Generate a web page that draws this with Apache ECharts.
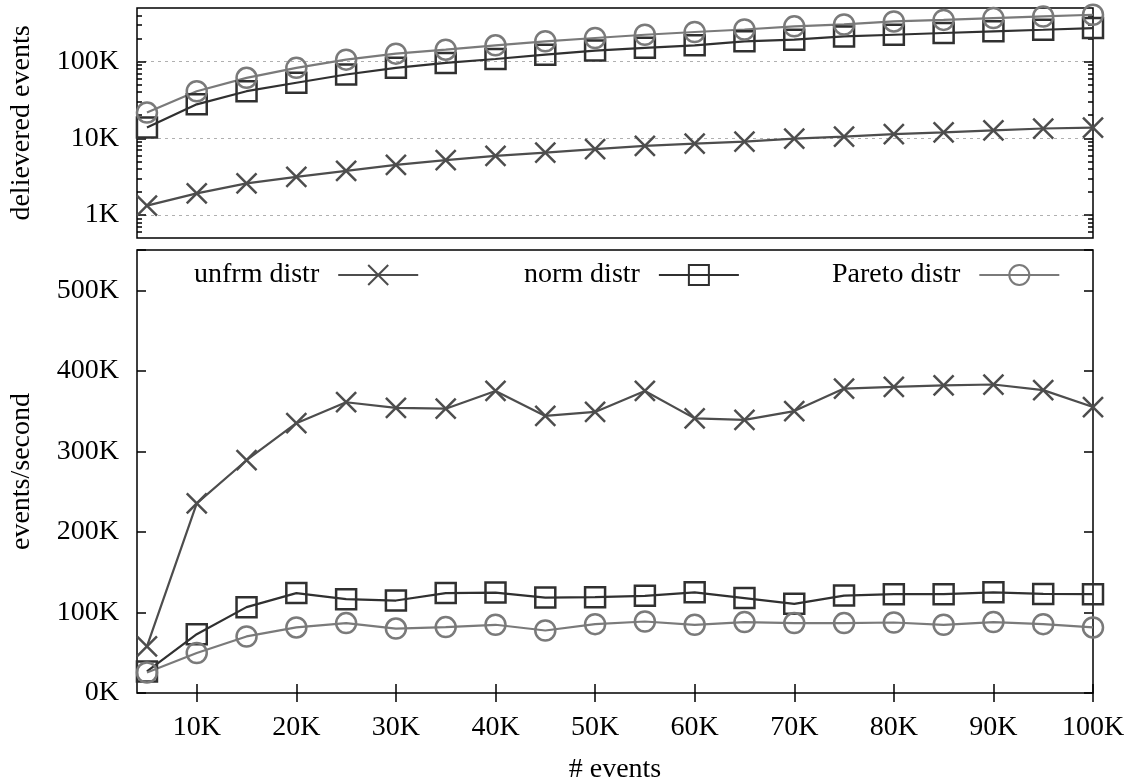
<!DOCTYPE html>
<html>
<head>
<meta charset="utf-8">
<title>delivered events</title>
<script src="https://cdn.jsdelivr.net/npm/echarts@6.0.0/dist/echarts.min.js"></script>
<style>
html, body { margin: 0; padding: 0; background: #fff; }
#chart { width: 1131px; height: 780px; }
</style>
</head>
<body>
<div id="chart"></div>
<script>
// number of events (x)
const eventCounts = [5000, 10000, 15000, 20000, 25000, 30000, 35000, 40000, 45000, 50000,
    55000, 60000, 65000, 70000, 75000, 80000, 85000, 90000, 95000, 100000];

// top panel: delivered events (log scale)
const unfrmDelivered = [1320, 1910, 2580, 3140, 3760, 4500, 5180, 5890, 6500, 7200,
    7940, 8530, 9060, 9900, 10500, 11300, 11900, 12700, 13400, 13800];
const normDelivered = [13800, 27700, 41100, 52900, 67800, 82800, 96000, 108000, 123000, 139000,
    151000, 163000, 184000, 193000, 213000, 224000, 236000, 248000, 260000, 274000];
const paretoDelivered = [21600, 41000, 61400, 82800, 106000, 127000, 143000, 163000, 184000, 203000,
    224000, 243000, 262000, 288000, 305000, 334000, 350000, 369000, 388000, 408000];

// bottom panel: events/second
const unfrmRate = [57800, 235500, 289000, 335000, 361000, 354000, 353000, 375000, 344000, 349000,
    375000, 341000, 339000, 350000, 378000, 380000, 382000, 383000, 376000, 355000];
const normRate = [26800, 73000, 106600, 124000, 116500, 114800, 124000, 124700, 118500, 119000,
    120600, 125000, 117800, 110700, 121000, 122700, 122700, 125000, 123000, 122700];
const paretoRate = [25500, 49600, 70200, 81400, 86800, 80000, 81800, 84700, 77600, 85500,
    88800, 84700, 88000, 86800, 86800, 87500, 84700, 88000, 85500, 81400];

// tick labels
const xTicks = [10000, 20000, 30000, 40000, 50000, 60000, 70000, 80000, 90000, 100000];
const logTicks = [1000, 10000, 100000];
const logMinorTicks = [600, 700, 800, 900, 2000, 3000, 4000, 5000, 6000, 7000, 8000, 9000,
    20000, 30000, 40000, 50000, 60000, 70000, 80000, 90000, 200000, 300000, 400000];

const FONT = 'Liberation Serif';
const kFmt = v => Math.round(v / 1000) + 'K';
const pair = (ys) => eventCounts.map((x, i) => [x, ys[i]]);

const chart = echarts.init(document.getElementById('chart'));

const txt = { fontSize: 28, fontFamily: FONT, color: '#000' };
const tickStyle = { color: '#000', width: 1.5 };

const lineSeries = (name, color, symbol, data, axisIdx) => ({
    type: 'line',
    name: name,
    data: data,
    xAxisIndex: axisIdx[0],
    yAxisIndex: axisIdx[1],
    symbol: symbol,
    symbolSize: 20,
    showAllSymbol: true,
    lineStyle: { color: color, width: 2.2 },
    itemStyle: { color: 'rgba(0,0,0,0)', borderColor: color, borderWidth: 2.5 },
    emphasis: { disabled: true }
});

const CROSS = 'path://M0,0L20,20M20,0L0,20';

const xBase = {
    type: 'value', min: 4000, max: 100000,
    axisLine: { show: false }, splitLine: { show: false }
};

const legendBase = {
    align: 'right',
    itemWidth: 80,
    itemHeight: 25,
    selectedMode: false,
    textStyle: Object.assign({ padding: [0, 14, 0, 0] }, txt)
};

const option = {
    animation: false,
    backgroundColor: '#fff',
    grid: [
        {
            left: 137, right: 38, top: 8, height: 230, outerBoundsMode: 'none', containLabel: false,
            show: true, borderColor: '#000', borderWidth: 1.5
        },
        {
            left: 137, right: 38, top: 250, height: 443, outerBoundsMode: 'none', containLabel: false,
            show: true, borderColor: '#000', borderWidth: 1.5
        }
    ],
    legend: [
        Object.assign({ data: ['unfrm distr'], left: 189, top: 256 }, legendBase),
        Object.assign({ data: ['norm distr'], left: 519, top: 256 }, legendBase),
        Object.assign({ data: ['Pareto distr'], left: 827, top: 256 }, legendBase)
    ],
    xAxis: [
        Object.assign({ gridIndex: 0, axisTick: { show: false }, axisLabel: { show: false } }, xBase),
        Object.assign({
            gridIndex: 1, position: 'bottom',
            axisTick: { inside: true, length: 9, customValues: xTicks, lineStyle: tickStyle },
            axisLabel: Object.assign({ customValues: xTicks, formatter: kFmt, margin: 21 }, txt),
            name: '# events', nameLocation: 'middle', nameGap: 63, nameTextStyle: txt
        }, xBase),
        Object.assign({
            gridIndex: 1, position: 'top',
            axisTick: { inside: true, length: 9, customValues: xTicks, lineStyle: tickStyle },
            axisLabel: { show: false }
        }, xBase)
    ],
    yAxis: [
        {
            gridIndex: 0, type: 'log', logBase: 10, min: 500, max: 500000, position: 'left',
            axisLine: { show: false },
            axisTick: { inside: true, length: 9, customValues: logTicks, lineStyle: tickStyle },
            axisLabel: Object.assign({ customValues: logTicks, formatter: kFmt, margin: 18, padding: [6, 0, 0, 0] }, txt),
            splitLine: { show: true, lineStyle: { color: '#b0b0b0', width: 1, type: [3, 4] } },
            name: 'delievered events', nameLocation: 'middle', nameGap: 101, nameTextStyle: txt
        },
        {
            gridIndex: 0, type: 'log', logBase: 10, min: 500, max: 500000, position: 'right',
            axisLine: { show: false },
            axisTick: { inside: true, length: 9, customValues: logTicks, lineStyle: tickStyle },
            axisLabel: { show: false }, splitLine: { show: false }
        },
        {
            gridIndex: 0, type: 'log', logBase: 10, min: 500, max: 500000, position: 'left',
            axisLine: { show: false },
            axisTick: { inside: true, length: 5, customValues: logMinorTicks, lineStyle: tickStyle },
            axisLabel: { show: false }, splitLine: { show: false }
        },
        {
            gridIndex: 0, type: 'log', logBase: 10, min: 500, max: 500000, position: 'right',
            axisLine: { show: false },
            axisTick: { inside: true, length: 5, customValues: logMinorTicks, lineStyle: tickStyle },
            axisLabel: { show: false }, splitLine: { show: false }
        },
        {
            gridIndex: 1, type: 'value', min: 0, max: 550000, interval: 100000, position: 'left',
            axisLine: { show: false },
            axisTick: { inside: true, length: 9, lineStyle: tickStyle },
            axisLabel: Object.assign({
                formatter: v => (v % 100000 === 0 ? kFmt(v) : ''), margin: 18, padding: [6, 0, 0, 0]
            }, txt),
            splitLine: { show: false },
            name: 'events/second', nameLocation: 'middle', nameGap: 101, nameTextStyle: txt
        },
        {
            gridIndex: 1, type: 'value', min: 0, max: 550000, interval: 100000, position: 'right',
            axisLine: { show: false },
            axisTick: { inside: true, length: 9, lineStyle: tickStyle },
            axisLabel: { show: false }, splitLine: { show: false }
        }
    ],
    series: [
        lineSeries('unfrm distr', '#4d4d4d', CROSS, pair(unfrmRate), [1, 4]),
        lineSeries('norm distr', '#303030', 'rect', pair(normRate), [1, 4]),
        lineSeries('Pareto distr', '#7a7a7a', 'circle', pair(paretoRate), [1, 4]),
        lineSeries('unfrm distr', '#4d4d4d', CROSS, pair(unfrmDelivered), [0, 0]),
        lineSeries('norm distr', '#303030', 'rect', pair(normDelivered), [0, 0]),
        lineSeries('Pareto distr', '#7a7a7a', 'circle', pair(paretoDelivered), [0, 0])
    ]
};

chart.setOption(option);
</script>
</body>
</html>
